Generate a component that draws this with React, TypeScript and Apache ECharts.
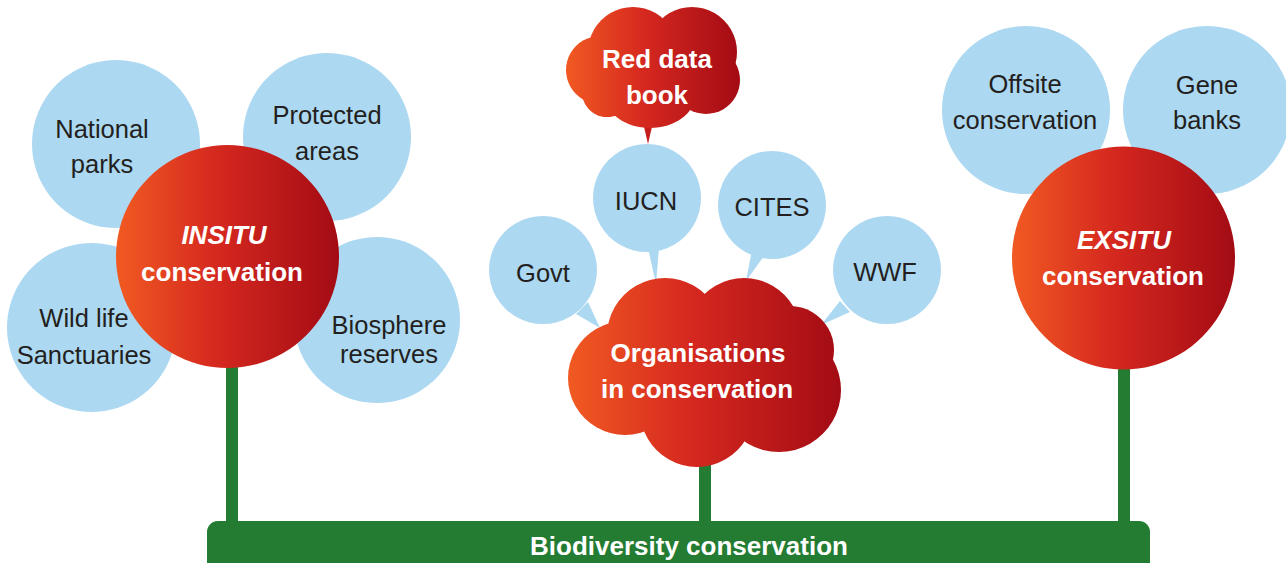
import React, { useEffect, useRef } from "react";
import * as echarts from "echarts";

// ---- content ----
const insituLabels = ["National\nparks", "Protected\nareas", "Wild life\nSanctuaries", "Biosphere\nreserves"];
const organisationLabels = ["Govt", "IUCN", "CITES", "WWF"];
const exsituLabels = ["Offsite\nconservation", "Gene\nbanks"];
const hubTitles = ["INSITU", "EXSITU"];
const hubSubtitle = "conservation";
const organisationsCloudLabel = "Organisations\nin conservation";
const redBookLabel = "Red data\nbook";
const baseLabel = "Biodiversity conservation";

// ---- layout (positions / sizes) ----
const insituLayout = [
  { cx: 116, cy: 144, r: 84, tx: 102, ty: [129, 164] },
  { cx: 327, cy: 137, r: 84, tx: 327, ty: [115, 151] },
  { cx: 91.5, cy: 327.5, r: 84.5, tx: 84, ty: [318, 355] },
  { cx: 377, cy: 320, r: 83, tx: 389, ty: [325, 354] },
];
const exsituLayout = [
  { cx: 1026, cy: 110, r: 84, tx: 1025, ty: [84, 120] },
  { cx: 1207, cy: 110, r: 84, tx: 1207, ty: [85, 120] },
];
const orgLayout = [
  { cx: 543, cy: 270, r: 54, tx: 543, ty: 273, tail: [[576, 314], [588, 302], [600, 328]] },
  { cx: 647, cy: 198, r: 54, tx: 646, ty: 200.5, tail: [[648, 248], [659, 248], [656, 284]] },
  { cx: 772, cy: 205, r: 54, tx: 772, ty: 207, tail: [[751, 255], [764, 256], [746, 281]] },
  { cx: 887, cy: 270, r: 54, tx: 885, ty: 272, tail: [[840, 301], [850, 312], [821, 325]] },
];
const hubLayout = [
  { cx: 227.5, cy: 256.5, r: 111.5, tx: [224, 222], ty: [235, 272], stemX: 226 },
  { cx: 1123.5, cy: 258, r: 111.5, tx: [1124, 1123], ty: [240, 276], stemX: 1118 },
];
const orgCloud = {
  x0: 568, x1: 841, stemX: 699, tx: [698, 697], ty: [353, 389],
  circles: [[665, 336, 58], [744, 335, 57], [790, 350, 44], [779, 390, 62], [697, 410, 57], [625, 378, 57]],
  ellipses: [[705, 375, 90, 60]],
};
const bookCloud = {
  x0: 566, x1: 740, tx: [657, 657], ty: [59, 95],
  circles: [[600, 70, 34], [633, 52, 45], [692, 52, 45], [706, 80, 34], [607, 92, 25]],
  ellipses: [[650, 95, 45, 33], [655, 70, 55, 35]],
  tail: [[642, 118], [654, 118], [648, 144]],
};
const bar = { x: 207, y: 521, w: 943, h: 70, top: 360 };

// ---- styles ----
const BLUE = "#acd8f1";
const GREEN = "#237c32";
const DARK = "#231f20";
const FONT = "'Liberation Sans', Arial, Helvetica, sans-serif";
const redStops = [
  { offset: 0, color: "#f15a22" },
  { offset: 0.45, color: "#d5281f" },
  { offset: 1, color: "#a30b14" },
];
const localRed = { type: "linear", x: 0, y: 0, x2: 1, y2: 0, colorStops: redStops };
const globalRed = (x0: number, x1: number) => ({
  type: "linear", x: x0, y: 0, x2: x1, y2: 0, colorStops: redStops, global: true,
});

function txt(text: string, x: number, y: number, opts: any = {}) {
  return {
    type: "text",
    z: 20,
    style: {
      text, x, y,
      align: "center", verticalAlign: "middle",
      textAlign: "center", textVerticalAlign: "middle",
      fill: opts.fill || DARK,
      fontFamily: FONT,
      fontSize: opts.size || 25.5,
      fontWeight: opts.bold ? "bold" : "normal",
      fontStyle: opts.italic ? "italic" : "normal",
    },
  };
}

function buildElements() {
  const els: any[] = [];
  // stems and base bar
  hubLayout.forEach((h) => {
    els.push({ type: "rect", z: 1, shape: { x: h.stemX, y: bar.top, width: 12, height: bar.y - bar.top + 5 }, style: { fill: GREEN } });
  });
  els.push({ type: "rect", z: 1, shape: { x: orgCloud.stemX, y: 440, width: 12, height: bar.y - 440 + 5 }, style: { fill: GREEN } });
  els.push({ type: "rect", z: 1, shape: { x: bar.x, y: bar.y, width: bar.w, height: bar.h, r: 11 }, style: { fill: GREEN } });
  els.push(txt(baseLabel, 689, 546, { fill: "#fff", bold: true, size: 26 }));

  // insitu bubbles
  insituLabels.forEach((lab, i) => {
    const L = insituLayout[i];
    els.push({ type: "circle", z: 2, shape: { cx: L.cx, cy: L.cy, r: L.r }, style: { fill: BLUE } });
    lab.split("\n").forEach((line, k) => els.push(txt(line, L.tx, L.ty[k])));
  });
  // exsitu bubbles
  exsituLabels.forEach((lab, i) => {
    const L = exsituLayout[i];
    els.push({ type: "circle", z: 2, shape: { cx: L.cx, cy: L.cy, r: L.r }, style: { fill: BLUE } });
    lab.split("\n").forEach((line, k) => els.push(txt(line, L.tx, L.ty[k])));
  });
  // organisation bubbles
  organisationLabels.forEach((lab, i) => {
    const L = orgLayout[i];
    els.push({ type: "polygon", z: 2, shape: { points: L.tail }, style: { fill: BLUE } });
    els.push({ type: "circle", z: 2, shape: { cx: L.cx, cy: L.cy, r: L.r }, style: { fill: BLUE } });
    els.push(txt(lab, L.tx, L.ty));
  });
  // hubs
  hubTitles.forEach((title, i) => {
    const H = hubLayout[i];
    els.push({ type: "circle", z: 5, shape: { cx: H.cx, cy: H.cy, r: H.r }, style: { fill: localRed } });
    els.push(txt(title, H.tx[0], H.ty[0], { fill: "#fff", bold: true, italic: true, size: 26 }));
    els.push(txt(hubSubtitle, H.tx[1], H.ty[1], { fill: "#fff", bold: true, size: 26 }));
  });
  // clouds
  [orgCloud, bookCloud].forEach((c: any, ci) => {
    const fill = globalRed(c.x0, c.x1);
    if (c.tail) els.push({ type: "polygon", z: 4, shape: { points: c.tail }, style: { fill: "#c81d1e" } });
    c.circles.forEach((cc: number[]) => {
      els.push({ type: "circle", z: 5, shape: { cx: cc[0], cy: cc[1], r: cc[2] }, style: { fill } });
    });
    c.ellipses.forEach((e: number[]) => {
      els.push({ type: "ellipse", z: 5, shape: { cx: e[0], cy: e[1], rx: e[2], ry: e[3] }, style: { fill } });
    });
    const lab = ci === 0 ? organisationsCloudLabel : redBookLabel;
    lab.split("\n").forEach((line: string, k: number) =>
      els.push(txt(line, c.tx[k], c.ty[k], { fill: "#fff", bold: true, size: 26 }))
    );
  });
  return els;
}

export default function App() {
  const ref = useRef<HTMLDivElement>(null);
  useEffect(() => {
    if (!ref.current) return;
    const chart = echarts.init(ref.current, null, { renderer: "svg" });
    chart.setOption({
      animation: false,
      backgroundColor: "#ffffff",
      graphic: { elements: buildElements() },
    });
    return () => chart.dispose();
  }, []);
  return (
    <div
      ref={ref}
      style={{ position: "fixed", left: 0, top: 0, width: 1286, height: 563, background: "#fff" }}
    />
  );
}
